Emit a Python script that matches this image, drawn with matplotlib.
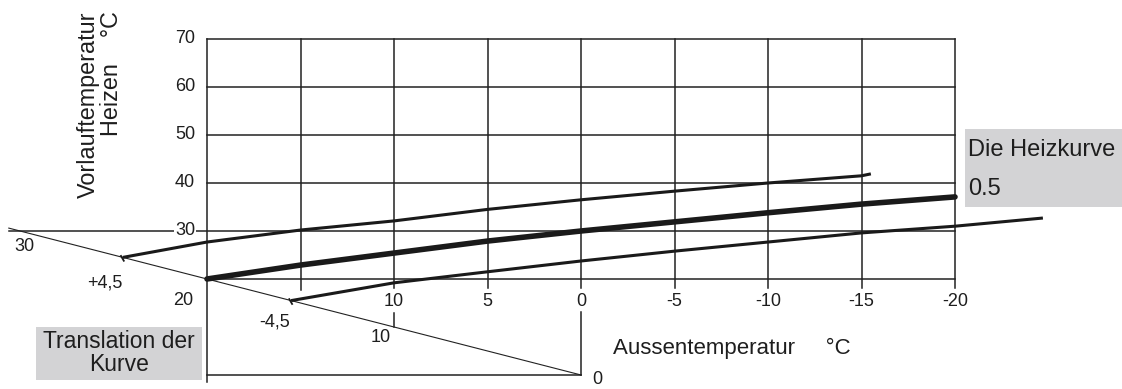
import numpy as np
import matplotlib.pyplot as plt

plt.rcParams['font.family'] = ['Liberation Sans', 'DejaVu Sans']

# outside temperature grid (x) and flow temperature grid (y)
outside_ticks = [20, 15, 10, 5, 0, -5, -10, -15, -20]
outside_labels = ['10', '5', '0', '-5', '-10', '-15', '-20']
flow_ticks = [20, 30, 40, 50, 60, 70]
flow_labels = ['30', '40', '50', '60', '70']

# heating curve 0.5 and the shifted curves (+4,5 / -4,5)
curve_t = [20, 15, 10, 5, 0, -5, -10, -15, -20]
curve_v = [20, 22.9, 25.4, 27.9, 30.0, 31.9, 33.8, 35.6, 37.1]
upper_t = [24.5, 20, 15, 10, 5, 0, -5, -10, -15, -15.5]
upper_v = [24.5, 27.7, 30.2, 32.1, 34.5, 36.5, 38.3, 40.0, 41.5, 41.9]
lower_t = [15.5, 10, 5, 0, -5, -10, -15, -20, -24.7]
lower_v = [15.5, 19.2, 21.5, 23.75, 25.8, 27.7, 29.6, 31.0, 32.7]

# room temperature axis (diagonal)
room_ticks = [30, 20, 10, 0]

line_c = '#1a1a1a'
grid_c = '#222222'

fig = plt.figure(figsize=(11.22, 3.89), dpi=100)
ax = fig.add_axes([0, 0, 1, 1])
ax.set_xlim(31.07, -28.93)
ax.set_ylim(-2.92, 78.125)
ax.axis('off')

# grid
for v in flow_ticks:
    x0 = 30.6 if v == 30 else 20
    ax.plot([x0, -20], [v, v], color=grid_c, lw=1.1, zorder=1)
for t in outside_ticks:
    bottom = 18.1
    if t == 20:
        bottom = -1.5
    elif t == 15:
        bottom = 17.7
    ax.plot([t, t], [70, bottom], color=grid_c, lw=1.1, zorder=1)

# lower parts of the room temperature scale
ax.plot([10, 10], [12.9, 10], color=grid_c, lw=1.1, zorder=1)
ax.plot([0, 0], [13.1, 0], color=grid_c, lw=1.1, zorder=1)
ax.plot([20, 0], [0, 0], color=grid_c, lw=1.1, zorder=1)
ax.plot([30.6, 0], [30.6, 0], color=grid_c, lw=0.8, zorder=1)

# curves
ax.plot(upper_t, upper_v, color=line_c, lw=2.2, solid_capstyle='butt', zorder=3)
ax.plot(lower_t, lower_v, color=line_c, lw=2.2, solid_capstyle='butt', zorder=3)
ax.plot(curve_t, curve_v, color=line_c, lw=4.0, solid_capstyle='round', zorder=4)

# small hooks at the start of the shifted curves
for t0, v0 in [(upper_t[0], upper_v[0]), (lower_t[0], lower_v[0])]:
    ax.plot([t0 + 0.1, t0 - 0.05], [v0 + 0.3, v0 - 0.7], color=line_c, lw=1.3, zorder=3)

tc = '#1e1e1e'
# y tick labels
for v, lab in zip(flow_ticks[1:], flow_labels):
    bb = dict(facecolor='white', edgecolor='none', pad=0.5) if v == 30 else None
    ax.text(20.64, v, lab, ha='right', va='center', fontsize=13, color=tc, bbox=bb, zorder=2)

# x tick labels
for t, lab in zip(outside_ticks[2:], outside_labels):
    ax.text(t, 15.4, lab, ha='center', va='center', fontsize=13, color=tc)

# room temperature labels
room_pos = {30: (29.79, 26.7), 20: (21.3, 15.6), 10: (10.7, 7.9), 0: (-0.86, -1.0)}
for r in room_ticks:
    ax.text(room_pos[r][0], room_pos[r][1], str(r), ha='center', va='center', fontsize=13, color=tc)
ax.text(25.45, 19.2, '+4,5', ha='center', va='center', fontsize=13, color=tc)
ax.text(16.4, 11.0, '-4,5', ha='center', va='center', fontsize=13, color=tc)

# axis titles
fig.text(100 / 1122, 1 - 11 / 389, 'Vorlauftemperatur\nHeizen    °C', rotation=90,
         ha='center', va='top', multialignment='right', fontsize=16.8, color=tc, linespacing=1.0)
fig.text(613 / 1122, 1 - 348 / 389, 'Aussentemperatur     °C', ha='left', va='center',
         fontsize=16, color=tc)

# gray boxes
box_c = '#d3d3d5'
fig.patches.append(plt.Rectangle((36 / 1122, 1 - 380 / 389), 166 / 1122, 53 / 389,
                                 transform=fig.transFigure, facecolor=box_c, edgecolor='none'))
fig.text(119 / 1122, 1 - 353 / 389, 'Translation der\nKurve', ha='center', va='center',
         fontsize=16.5, color=tc, linespacing=1.0)
fig.patches.append(plt.Rectangle((965 / 1122, 1 - 207 / 389), 157 / 1122, 78 / 389,
                                 transform=fig.transFigure, facecolor=box_c, edgecolor='none'))
fig.text(968 / 1122, 1 - 150 / 389, 'Die Heizkurve', ha='left', va='center', fontsize=17, color=tc)
fig.text(968 / 1122, 1 - 189 / 389, '0.5', ha='left', va='center', fontsize=17, color=tc)

fig.savefig('out.png', dpi=100, facecolor='white')
